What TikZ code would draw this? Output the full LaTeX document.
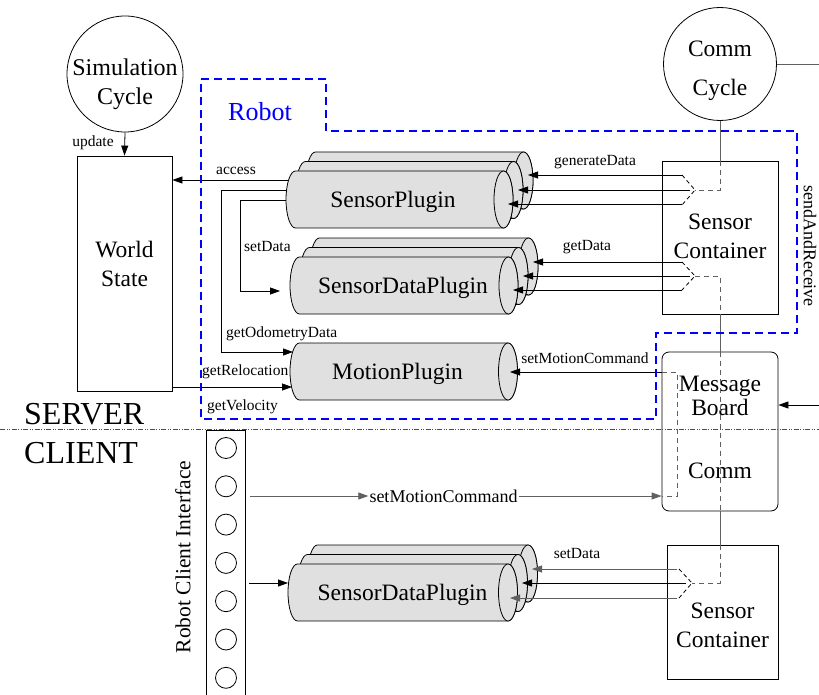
\documentclass[tikz,border=0pt]{standalone}
\usepackage{fontspec}
\setmainfont{Liberation Serif}
\usetikzlibrary{arrows.meta}
\definecolor{cylgray}{HTML}{E0E0E0}
\definecolor{lgray}{HTML}{606060}
\tikzset{
  lbl/.style={font=\fontsize{15.5}{18}\selectfont, inner sep=0pt},
  big/.style={font=\fontsize{23.5}{29}\selectfont, align=center, inner sep=0pt},
  arr/.style={-{Triangle[length=10pt,width=7pt]}, line width=0.8pt},
  garr/.style={arr, draw=lgray},
  ln/.style={line width=0.8pt},
  gln/.style={line width=0.9pt, draw=lgray},
  dln/.style={line width=0.8pt, draw=lgray, dash pattern=on 5pt off 4pt},
  cylstyle/.style={fill=cylgray, draw=black, line width=0.8pt},
  boxstyle/.style={draw, line width=0.8pt, inner sep=0pt},
  robotline/.style={draw=blue, line width=1.5pt, dash pattern=on 8pt off 5pt},
  sepline/.style={draw=black!70, line width=0.8pt, dash pattern=on 5pt off 1.5pt on 1pt off 1.5pt on 1pt off 1.5pt},
}
\newcommand{\onecyl}[3]{%
  \filldraw[cylstyle] ({#1+9.5},{#2-28.5}) -- ({#3},{#2-28.5})
    arc[start angle=-90,end angle=90,x radius=9.5,y radius=28.5]
    -- ({#1+9.5},{#2+28.5})
    arc[start angle=90,end angle=270,x radius=9.5,y radius=28.5] -- cycle;
  \filldraw[cylstyle] (#3,#2) ellipse[x radius=9.5,y radius=28.5];
}
\newcommand{\cylstack}[3]{%
  \onecyl{#1+20}{#2-19}{#3+20}%
  \onecyl{#1+10}{#2-9.5}{#3+10}%
  \onecyl{#1}{#2}{#3}%
}
\begin{document}
\begin{tikzpicture}[x=1pt,y=-1pt]
\useasboundingbox (0,0) rectangle (819,695);

% ---------- left: simulation + world ----------
\node[circle, boxstyle, minimum size=116pt] (simcyc) at (125,74) {};
\node[font=\fontsize{24}{29}\selectfont, align=center, inner sep=0pt] (simtxt) at (125,84) {Simulation\\Cycle};
\node[boxstyle, minimum width=95pt, minimum height=235pt] (world) at (124.5,273.5) {};
\node[big] (worldtxt) at (124.5,263.5) {World\\State};
\draw[arr] (simcyc.south) -- (world.north);
\node[lbl] (lupdate) at (93,143) {update};

% ---------- robot label ----------
\node[font=\fontsize{26}{30}\selectfont, text=blue, inner sep=0pt] (robottxt) at (260,112) {Robot};

% ---------- coordinates for left connectors ----------
\coordinate (spA) at (296,180);
\coordinate (spB) at (296,190);
\coordinate (spC) at (296,200);
\coordinate (cB1) at (221,190);
\coordinate (cB2) at (221,352);
\coordinate (mpIn1) at (293,352);
\coordinate (cC1) at (240,200);
\coordinate (cC2) at (240,291);
\coordinate (sdpIn) at (280,291);
\coordinate (mpIn2) at (292,387);

\draw[arr] (spA) -- (world.east |- spA);
\draw[ln] (spB) -- (cB1) -- (cB2);
\draw[arr] (cB2) -- (mpIn1);
\draw[ln] (spC) -- (cC1) -- (cC2);
\draw[arr] (cC2) -- (sdpIn);
\draw[arr] (world.east |- mpIn2) -- (mpIn2);

\node[lbl] (laccess) at (236,171) {access};
\node[lbl, anchor=west] (lsetdata) at (244,247) {setData};
\node[lbl, anchor=west] (lodo) at (226,334) {getOdometryData};
\node[lbl, anchor=west] (lreloc) at (202,372) {getRelocation};
\node[lbl, anchor=west] (lvel) at (207,407) {getVelocity};

% ---------- cylinders ----------
\cylstack{286}{199.5}{503.5}
\node[big] (sp) at (393,202) {SensorPlugin};
\cylstack{290}{285.5}{508.5}
\node[big] (sdp) at (403,288) {SensorDataPlugin};
\onecyl{290}{371.5}{508}
\node[big] (mp) at (397.5,374) {MotionPlugin};
\cylstack{288}{592.5}{508}
\node[big] (csdp) at (402.5,595) {SensorDataPlugin};

% ---------- right: comm cycle, containers, board ----------
\node[circle, boxstyle, minimum size=113pt] (commcyc) at (720,64) {};
\node[font=\fontsize{23.5}{39}\selectfont, align=center, inner sep=0pt] (commtxt) at (720,71) {Comm\\Cycle};
\node[boxstyle, minimum width=116pt, minimum height=153pt] (sc1) at (720,237.5) {};
\node[big] (sc1txt) at (720,236) {Sensor\\Container};
\node[boxstyle, rounded corners=7pt, minimum width=116pt, minimum height=159pt] (mb) at (720,431.5) {};
\node[big, font=\fontsize{23.5}{24}\selectfont] (mbtxt) at (720,396) {Message\\Board};
\node[big] (commtxt2) at (720,471) {Comm};
\node[boxstyle, minimum width=111pt, minimum height=134pt] (sc2) at (722.5,612) {};
\node[big] (sc2txt) at (722.5,625) {Sensor\\Container};

\draw[gln] (commcyc.east) -- (819,64);
\coordinate (mbR) at (819,405);
\draw[arr] (mbR) -- (mb.east |- mbR);

% vertical communication line
\coordinate (v1) at (720,190);
\coordinate (v2) at (720,276);
\coordinate (v3) at (720,583);
\draw[gln] (commcyc.south) -- (sc1.north);
\draw[dln] (sc1.north) -- (v1) -- (695,190);
\draw[dln] (695,276) -- (v2) -- (sc1.south);
\draw[gln] (sc1.south) -- (mb.north);
\draw[dln] (mb.north) -- (mb.south);
\draw[gln] (mb.south) -- (mb.south |- sc2.north);
\draw[dln] (mb.south |- sc2.north) -- (v3) -- (692,583);

% chevrons
\draw[ln, dash pattern=on 4pt off 3pt] (682,175) -- (695,190) -- (682,205);
\draw[ln, dash pattern=on 4pt off 3pt] (682,262) -- (695,276) -- (682,290);
\draw[ln, dash pattern=on 4pt off 3pt] (679,569) -- (692,583) -- (679,598);

% arrows to SensorPlugin stack
\coordinate (o1) at (682,175); \coordinate (t1) at (528,175);
\coordinate (o2) at (690,190); \coordinate (t2) at (518,190);
\coordinate (o3) at (682,204); \coordinate (t3) at (508,204);
\draw[arr] (o1) -- (t1);
\draw[arr] (o2) -- (t2);
\draw[arr] (o3) -- (t3);
\node[lbl] (lgen) at (595,162) {generateData};

% arrows to SensorDataPlugin stack
\coordinate (o4) at (682,262); \coordinate (t4) at (533,262);
\coordinate (o5) at (690,276); \coordinate (t5) at (523,276);
\coordinate (o6) at (682,290); \coordinate (t6) at (513,290);
\draw[arr] (o4) -- (t4);
\draw[arr] (o5) -- (t5);
\draw[arr] (o6) -- (t6);
\node[lbl] (lgetdata) at (587,247) {getData};

% motion command (server)
\coordinate (m1) at (677,372);
\coordinate (m2) at (677,496);
\coordinate (mpT) at (510,372);
\draw[arr] (mb.west |- m1) -- (mpT);
\draw[dln] (mb.west |- m1) -- (m1) -- (m2) -- (mb.west |- m2);
\node[lbl] (lsmc) at (585,358) {setMotionCommand};

% client sensor data arrows
\coordinate (o7) at (677,569); \coordinate (t7) at (532,569);
\coordinate (o8) at (686,583); \coordinate (t8) at (522,583);
\coordinate (o9) at (677,598); \coordinate (t9) at (510,598);
\draw[garr] (o7) -- (t7);
\draw[arr] (o8) -- (t8);
\draw[garr] (o9) -- (t9);
\node[lbl] (lsetdata2) at (577,553) {setData};

% ---------- robot client interface ----------
\node[boxstyle, minimum width=39pt, minimum height=270pt] (rci) at (225.5,565) {};
\foreach \k in {0,...,6} {
  \node[circle, boxstyle, minimum size=21pt] (rc\k) at (226,{448+38.3*\k}) {};
}
\node[font=\fontsize{21.5}{24}\selectfont, rotate=90, inner sep=0pt] (rcitxt) at (183,557) {Robot Client Interface};

\coordinate (c1) at (250,496);
\node[font=\fontsize{18}{20}\selectfont, inner sep=1pt] (smc2) at (443.5,496) {setMotionCommand};
\draw[garr] (c1) -- (smc2.west);
\draw[garr] (smc2.east) -- (mb.west |- smc2.east);
\coordinate (c2) at (249,583);
\coordinate (csdpIn) at (288,583);
\draw[arr] (c2) -- (csdpIn);

% ---------- server / client ----------
\draw[sepline] (0,429) -- (819,429);
\node[font=\fontsize{32}{34}\selectfont, anchor=base west, inner sep=0pt] (server) at (24,424) {SERVER};
\node[font=\fontsize{32}{34}\selectfont, anchor=base west, inner sep=0pt] (client) at (24,463) {CLIENT};

% sendAndReceive
\node[font=\fontsize{18}{20}\selectfont, rotate=-90, inner sep=0pt] (sar) at (810,246) {sendAndReceive};

% ---------- robot boundary ----------
\draw[robotline] (201,79) -- (326,79) -- (326,131) -- (797,131) -- (797,333) -- (656,333) -- (656,419) -- (201,419) -- cycle;
\end{tikzpicture}
\end{document}
